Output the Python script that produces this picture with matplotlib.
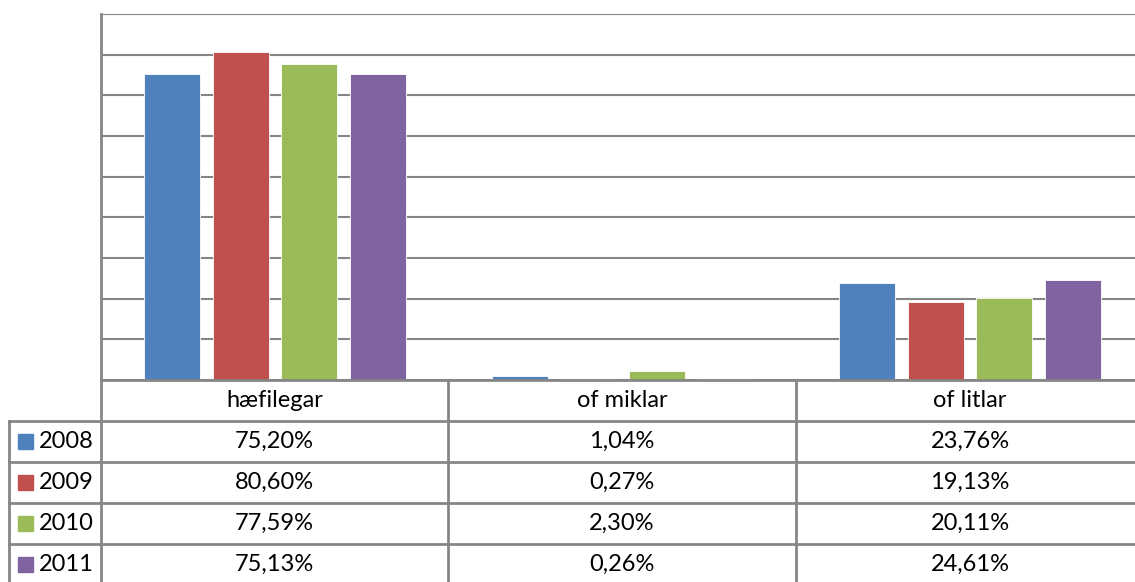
import matplotlib
matplotlib.use("Agg")
import matplotlib.pyplot as plt
import numpy as np

plt.rcParams['font.family'] = ['Lato', 'DejaVu Sans']

categories = ["hæfilegar", "of miklar", "of litlar"]
years = ["2008", "2009", "2010", "2011"]
values = {
    "2008": [75.20, 1.04, 23.76],
    "2009": [80.60, 0.27, 19.13],
    "2010": [77.59, 2.30, 20.11],
    "2011": [75.13, 0.26, 24.61],
}
colors = ["#4F81BD", "#C0504D", "#9BBB59", "#8064A2"]

W, H = 1135, 582
GRID = "#868686"

fig = plt.figure(figsize=(W / 100, H / 100), dpi=100)

# chart area in pixel terms (runs a little past the right edge, as in the source)
left, right, top, bottom = 101, 1144, 14, 380
ax = fig.add_axes([left / W, 1 - bottom / H, (right - left) / W, (bottom - top) / H])
x = np.arange(len(categories))
step = 0.197
width = 0.161
for i, yr in enumerate(years):
    ax.bar(x + (i - 1.5) * step, values[yr], width, color=colors[i],
           edgecolor="white", linewidth=0.6, zorder=3)
ax.set_xlim(-0.5, len(categories) - 0.5)
ax.set_ylim(0, 90)
ax.set_yticks(np.arange(0, 91, 10))
ax.yaxis.grid(True, color=GRID, linewidth=1.5, zorder=0)
ax.set_xticks([])
ax.tick_params(left=False, labelleft=False)
for s in ["top", "right", "bottom"]:
    ax.spines[s].set_visible(False)
ax.spines["left"].set_color(GRID)
ax.spines["left"].set_linewidth(2)

# data table below, drawn on a pixel-coordinate overlay
tab = fig.add_axes([0, 0, 1, 1], zorder=5)
tab.set_xlim(0, W)
tab.set_ylim(H, 0)
tab.axis("off")
tab.patch.set_alpha(0)

row_h = 41
col_x = [9, 101, 448, 796, 1144]
hdr_top = 380
rows_y = [hdr_top + row_h * k for k in range(6)]
lw = 2

tab.plot([col_x[1], col_x[-1]], [hdr_top, hdr_top], color=GRID, lw=lw)
for yv in rows_y[1:5]:
    tab.plot([col_x[0], col_x[-1]], [yv, yv], color=GRID, lw=lw)
tab.plot([col_x[0], col_x[0]], [rows_y[1], H + 5], color=GRID, lw=lw)
tab.plot([col_x[1], col_x[1]], [hdr_top, H + 5], color=GRID, lw=lw)
for cx in col_x[2:4]:
    tab.plot([cx, cx], [hdr_top, H + 5], color=GRID, lw=lw)

fs = 17
for j, cat in enumerate(categories):
    cx = (col_x[j + 1] + col_x[j + 2]) / 2
    tab.text(cx, hdr_top + row_h / 2, cat, ha="center", va="center", fontsize=fs)

for i, yr in enumerate(years):
    yc = rows_y[i + 1] + row_h / 2
    tab.add_patch(plt.Rectangle((18, yc - 7.5), 15, 15, color=colors[i]))
    tab.text(39, yc, yr, ha="left", va="center", fontsize=fs)
    for j, v in enumerate(values[yr]):
        cx = (col_x[j + 1] + col_x[j + 2]) / 2
        tab.text(cx, yc, f"{v:.2f}%".replace(".", ","), ha="center", va="center", fontsize=fs)

fig.savefig("out.png", dpi=100)
